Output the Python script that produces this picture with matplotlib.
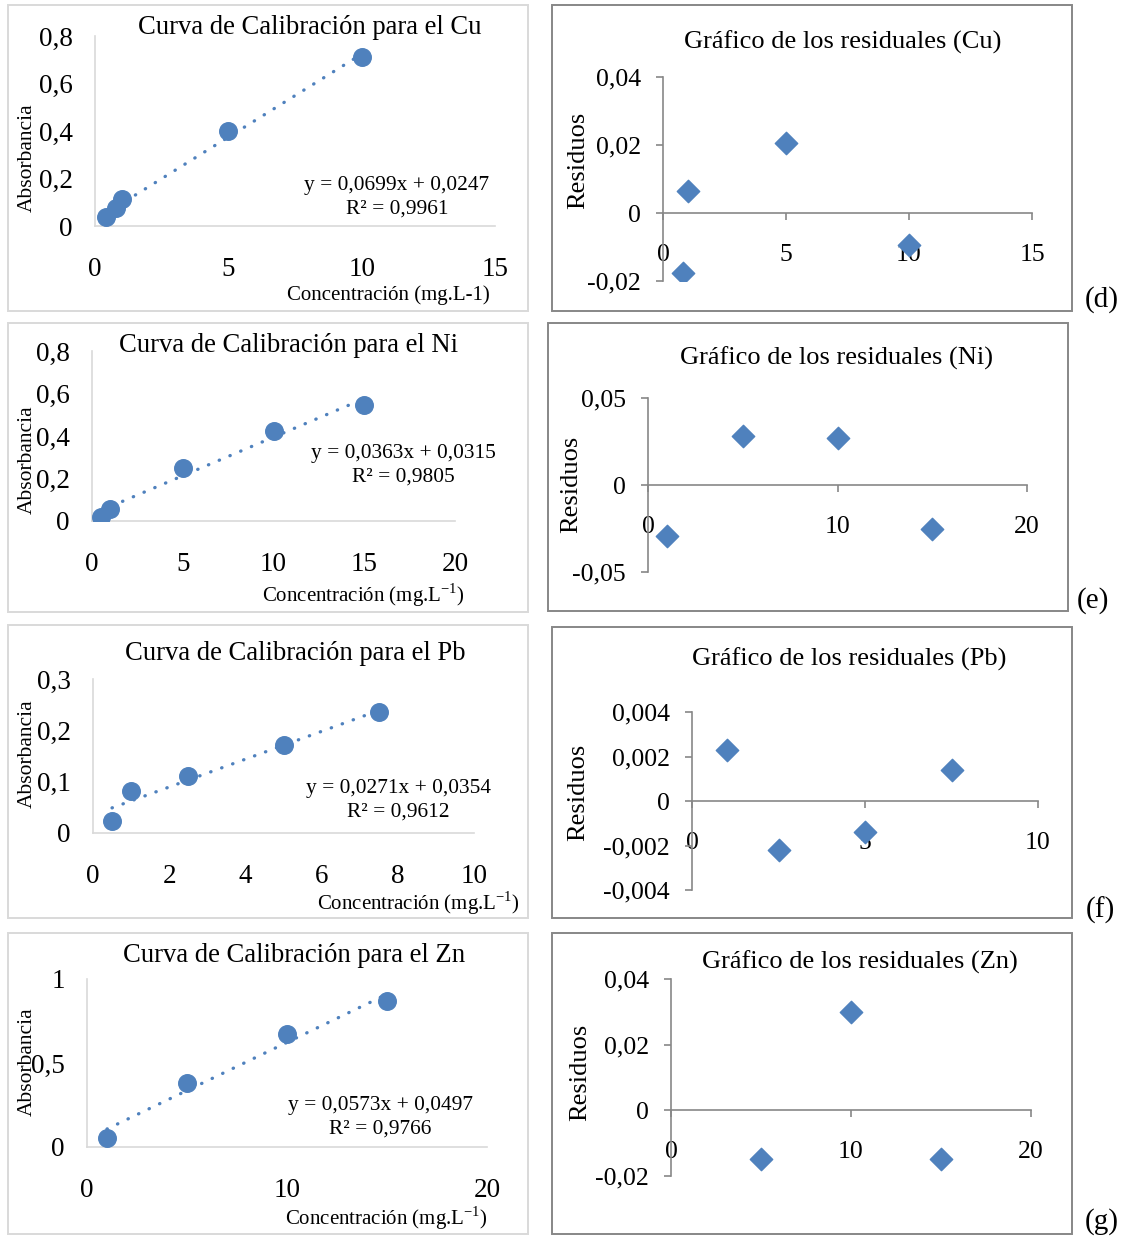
import matplotlib
matplotlib.use("Agg")
import matplotlib.pyplot as plt
from matplotlib.patches import Rectangle
from matplotlib.ticker import FuncFormatter

plt.rcParams['font.family'] = ['Liberation Serif', 'DejaVu Serif']
plt.rcParams['mathtext.fontset'] = 'custom'
plt.rcParams['mathtext.rm'] = 'Liberation Serif'

W, H = 1127, 1240
BLUE = '#4F81BD'
LIGHT = '#d9d9d9'
GRAY = '#878787'

# calibration data (concentration mg/L, absorbance)
cu_conc = [0.4, 0.8, 1.0, 5.0, 10.0]
cu_abs = [0.036, 0.074, 0.112, 0.399, 0.712]
ni_conc = [0.5, 1.0, 5.0, 10.0, 15.0]
ni_abs = [0.02, 0.055, 0.249, 0.423, 0.547]
pb_conc = [0.5, 1.0, 2.5, 5.0, 7.5]
pb_abs = [0.024, 0.081, 0.112, 0.172, 0.235]
zn_conc = [1.0, 5.0, 10.0, 15.0]
zn_abs = [0.055, 0.38, 0.67, 0.867]

# linear fits shown on the charts (slope, intercept, R2)
cu_fit = (0.0699, 0.0247, '0,9961')
ni_fit = (0.0363, 0.0315, '0,9805')
pb_fit = (0.0271, 0.0354, '0,9612')
zn_fit = (0.0573, 0.0497, '0,9766')

# residuals
cu_res_x = [0.8, 1.0, 5.0, 10.0]
cu_res = [-0.0176, 0.0066, 0.0206, -0.0093]
ni_res_x = [1.0, 5.0, 10.0, 15.0]
ni_res = [-0.0294, 0.0283, 0.0269, -0.0251]
pb_res_x = [1.0, 2.5, 5.0, 7.5]
pb_res = [0.0023, -0.0022, -0.0014, 0.0014]
zn_res_x = [5.0, 10.0, 15.0]
zn_res = [-0.0149, 0.0299, -0.0149]

comma = FuncFormatter(lambda v, p: f"{v:g}".replace('.', ','))

fig = plt.figure(figsize=(W / 100, H / 100), dpi=100)


# box given in pixels: x0, x1, y_top, y_bottom
def make_axes(box):
    x0, x1, yt, yb = box
    return fig.add_axes([x0 / W, 1 - yb / H, (x1 - x0) / W, (yb - yt) / H])


def frac(box, px, py):
    x0, x1, yt, yb = box
    return (px - x0) / (x1 - x0), (yb - py) / (yb - yt)


def frame(x0, x1, yt, yb, color):
    fig.add_artist(Rectangle((x0 / W, 1 - yb / H), (x1 - x0) / W, (yb - yt) / H,
                             transform=fig.transFigure, fill=False,
                             edgecolor=color, lw=1.4))


def calib_plot(box, frame_box, el, conc, absb, fit, xmax, xstep, ymax, ystep,
               title_xy, eq_xy, xlab_xy, ylab_y, xlabel):
    frame(*frame_box, LIGHT)
    ax = make_axes(box)
    ax.scatter(conc, absb, s=160, color=BLUE, zorder=3)
    slope, icpt, r2 = fit
    xs = [min(conc), max(conc)]
    ax.plot(xs, [slope * v + icpt for v in xs], color=BLUE, lw=2.4,
            linestyle=(0, (0.1, 3.4)), dash_capstyle='round', zorder=2)
    ax.set_xlim(0, xmax)
    ax.set_ylim(0, ymax)
    ax.set_xticks([i * xstep for i in range(int(round(xmax / xstep)) + 1)])
    ax.set_yticks([i * ystep for i in range(int(round(ymax / ystep)) + 1)])
    ax.xaxis.set_major_formatter(comma)
    ax.yaxis.set_major_formatter(comma)
    ax.tick_params(length=0, labelsize=19.5)
    ax.tick_params(axis='x', pad=22)
    ax.tick_params(axis='y', pad=16)
    for s in ['top', 'right']:
        ax.spines[s].set_visible(False)
    for s in ['left', 'bottom']:
        ax.spines[s].set_color(LIGHT)
        ax.spines[s].set_linewidth(1.2)
    ax.patch.set_alpha(0)
    ax.set_ylabel('Absorbancia', fontsize=15.5, va='center')
    ax.yaxis.set_label_coords(*frac(box, 27, ylab_y))
    ax.set_xlabel(xlabel, fontsize=15, va='center')
    ax.xaxis.set_label_coords(*frac(box, *xlab_xy))
    tx, ty = frac(box, *title_xy)
    ax.text(tx, ty, 'Curva de Calibración para el ' + el, transform=ax.transAxes,
            ha='center', va='center', fontsize=19.2)
    ex, ey = frac(box, *eq_xy)
    eq = f"y = {slope:.4f}x + {icpt:.4f}".replace('.', ',')
    ax.text(ex, ey, eq + '\nR² = ' + r2, transform=ax.transAxes, ha='center',
            va='center', fontsize=15.4, linespacing=1.3, multialignment='center')
    return ax


def resid_plot(box, frame_box, el, xs, res, xmax, xstep, ymin, ymax, ystep,
               title_xy, ylab_xy, letter, letter_xy):
    frame(*frame_box, GRAY)
    ax = make_axes(box)
    ax.scatter(xs, res, marker='D', s=130, color=BLUE, zorder=3)
    ax.set_xlim(0, xmax)
    ax.set_ylim(ymin, ymax)
    ax.set_xticks([i * xstep for i in range(int(round(xmax / xstep)) + 1)])
    n = int(round((ymax - ymin) / ystep))
    ax.set_yticks([round(ymin + i * ystep, 6) for i in range(n + 1)])
    ax.xaxis.set_major_formatter(comma)
    ax.yaxis.set_major_formatter(comma)
    ax.spines['bottom'].set_position(('data', 0))
    for s in ['top', 'right']:
        ax.spines[s].set_visible(False)
    for s in ['left', 'bottom']:
        ax.spines[s].set_color(GRAY)
        ax.spines[s].set_linewidth(1.2)
    ax.tick_params(direction='out', length=5, width=1.2, color=GRAY, labelsize=18.5)
    ax.tick_params(axis='x', pad=17)
    ax.tick_params(axis='y', pad=11)
    ax.patch.set_alpha(0)
    ax.set_ylabel('Residuos', fontsize=19, va='center')
    ax.yaxis.set_label_coords(*frac(box, *ylab_xy))
    tx, ty = frac(box, *title_xy)
    ax.text(tx, ty, 'Gráfico de los residuales (' + el + ')', transform=ax.transAxes,
            ha='center', va='center', fontsize=19)
    fig.text(letter_xy[0] / W, 1 - letter_xy[1] / H, letter, fontsize=21,
             ha='center', va='center')
    return ax


xlab_plain = 'Concentración (mg.L-1)'
xlab_sup = 'Concentración (mg.L$^{-1}$)'

calib_plot((95, 495, 36, 226), (8, 528, 5, 311), 'Cu', cu_conc, cu_abs, cu_fit,
           15, 5, 0.8, 0.2, (310, 27), (397, 197), (388, 295), 158, xlab_plain)
calib_plot((92, 455, 351, 521), (8, 528, 323, 612), 'Ni', ni_conc, ni_abs, ni_fit,
           20, 5, 0.8, 0.2, (289, 345), (403, 465), (363, 595), 460, xlab_sup)
calib_plot((93, 474, 679, 833), (8, 528, 625, 918), 'Pb', pb_conc, pb_abs, pb_fit,
           10, 2, 0.3, 0.1, (295, 654), (398, 800), (418, 903), 754, xlab_sup)
calib_plot((87, 487, 979, 1147), (8, 528, 933, 1234), 'Zn', zn_conc, zn_abs, zn_fit,
           20, 10, 1.0, 0.5, (294, 955), (380, 1117), (386, 1218), 1062, xlab_sup)

resid_plot((663, 1032, 77, 281), (552, 1072, 5, 311), 'Cu', cu_res_x, cu_res,
           15, 5, -0.02, 0.04, 0.02, (843, 42), (578, 160), '(d)', (1102, 300))
resid_plot((648, 1027, 398, 572), (548, 1068, 323, 611), 'Ni', ni_res_x, ni_res,
           20, 10, -0.05, 0.05, 0.05, (837, 358), (571, 484), '(e)', (1093, 601))
resid_plot((692, 1038, 712, 890), (552, 1072, 627, 918), 'Pb', pb_res_x, pb_res,
           10, 5, -0.004, 0.004, 0.002, (849, 659), (578, 792), '(f)', (1100, 910))
resid_plot((671, 1031, 979, 1176), (552, 1072, 933, 1234), 'Zn', zn_res_x, zn_res,
           20, 10, -0.02, 0.04, 0.02, (860, 962), (580, 1072), '(g)', (1102, 1222))

fig.savefig('out.png', dpi=100)
